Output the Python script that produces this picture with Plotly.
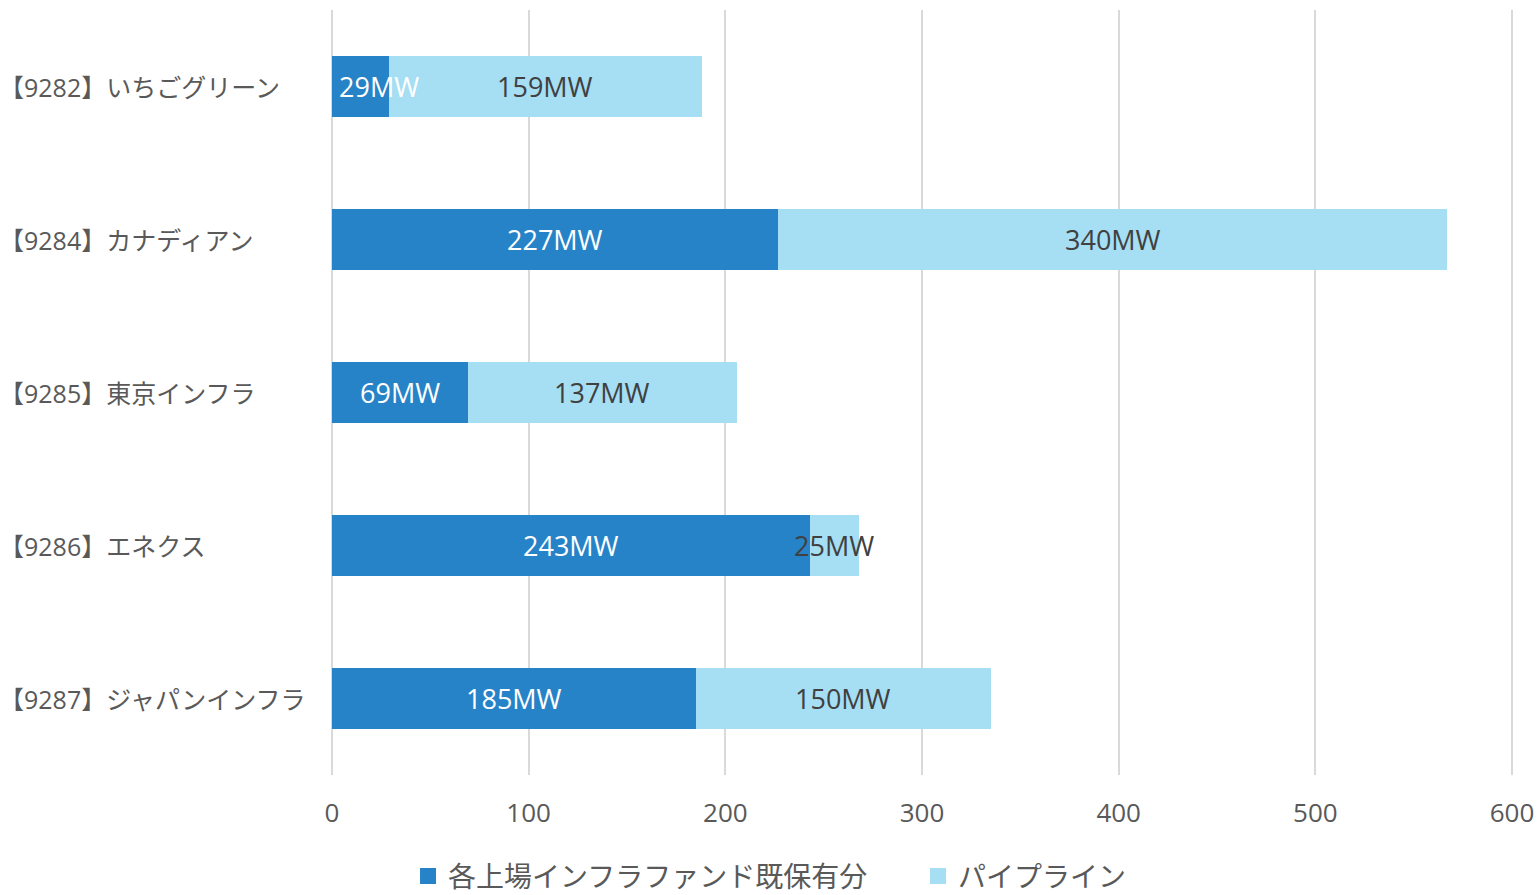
import plotly.graph_objects as go

categories = ["【9282】いちごグリーン", "【9284】カナディアン", "【9285】東京インフラ", "【9286】エネクス", "【9287】ジャパンインフラ"]
existing = [29, 227, 69, 243, 185]
pipeline = [159, 340, 137, 25, 150]
series_names = ["各上場インフラファンド既保有分", "パイプライン"]
colors = ["#2783C7", "#A6DEF4"]
x_ticks = [0, 100, 200, 300, 400, 500, 600]

FONT = "Open Sans, Noto Sans CJK JP, sans-serif"

fig = go.Figure()
fig.add_trace(go.Bar(
    y=categories, x=existing, name=series_names[0], orientation="h",
    marker=dict(color=colors[0], line=dict(width=0)), showlegend=False,
))
fig.add_trace(go.Bar(
    y=categories, x=pipeline, name=series_names[1], orientation="h",
    marker=dict(color=colors[1], line=dict(width=0)), showlegend=False,
))
# legend entries with larger square swatches
for name, col in zip(series_names, colors):
    fig.add_trace(go.Scatter(x=[None], y=[None], mode="markers", name=name,
                             marker=dict(symbol="square", size=16, color=col)))

# value labels drawn on top of both bars
for c, e, p in zip(categories, existing, pipeline):
    narrow = e * 1180 / 600 < 70
    fig.add_annotation(text=f"{e}MW", x=0 if narrow else e / 2, y=c, xref="x", yref="y",
                       xanchor="left" if narrow else "center", xshift=5 if narrow else 0,
                       showarrow=False, font=dict(size=27, color="white", family=FONT))
    fig.add_annotation(text=f"{p}MW", x=e + p / 2, y=c, xref="x", yref="y",
                       xanchor="center", showarrow=False,
                       font=dict(size=27, color="#404040", family=FONT))

for c in categories:
    fig.add_annotation(text=c, xref="paper", yref="y", x=-0.2812, y=c, xanchor="left",
                       yanchor="middle", showarrow=False,
                       font=dict(size=25, color="#595959", family=FONT))

fig.update_layout(
    barmode="stack", bargap=0.6,
    width=1538, height=895,
    margin=dict(l=330, r=24, t=10, b=120, autoexpand=False),
    paper_bgcolor="white", plot_bgcolor="white",
    font=dict(family=FONT, color="#595959", size=24),
    legend=dict(orientation="h", x=0.0659, xanchor="left", y=0.021, yanchor="middle",
                yref="container",
                font=dict(size=28, color="#595959", family=FONT), itemwidth=30,
                entrywidth=465, entrywidthmode="pixels",
                traceorder="normal", tracegroupgap=0),
    xaxis=dict(range=[-1, 601], tickvals=x_ticks, showgrid=True, gridcolor="#D9D9D9",
               gridwidth=2, zeroline=False, showline=False, ticks="", automargin=False,
               tickfont=dict(size=26, color="#595959"), ticklabelstandoff=20),
    yaxis=dict(autorange="reversed", showticklabels=False, showgrid=False, zeroline=False,
               showline=False, ticks="", automargin=False),
)
fig.write_html("out.html", config={"displayModeBar": False},
               post_script="document.body.style.margin='0';")
